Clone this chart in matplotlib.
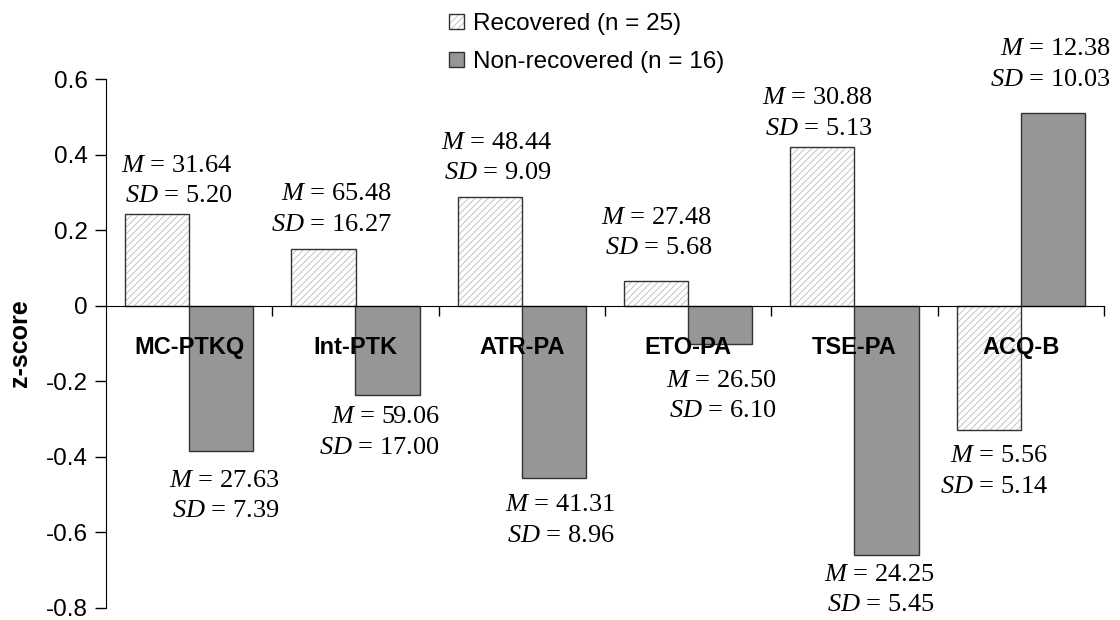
import numpy as np
import matplotlib.pyplot as plt
from matplotlib.patches import Patch

plt.rcParams['font.family'] = ['Liberation Sans', 'DejaVu Sans']
plt.rcParams['mathtext.fontset'] = 'custom'
plt.rcParams['mathtext.rm'] = 'Liberation Serif'
plt.rcParams['mathtext.it'] = 'Liberation Serif:italic'
plt.rcParams['hatch.linewidth'] = 0.7

# ----------------------------
# datos
# ----------------------------
categories = ['MC-PTKQ', 'Int-PTK', 'ATR-PA', 'ETO-PA', 'TSE-PA', 'ACQ-B']
z_recovered = [0.243, 0.149, 0.288, 0.066, 0.421, -0.330]
z_nonrecovered = [-0.384, -0.235, -0.455, -0.101, -0.660, 0.509]
m_recovered = ['31.64', '65.48', '48.44', '27.48', '30.88', '5.56']
sd_recovered = ['5.20', '16.27', '9.09', '5.68', '5.13', '5.14']
m_nonrecovered = ['27.63', '59.06', '41.31', '26.50', '24.25', '12.38']
sd_nonrecovered = ['7.39', '17.00', '8.96', '6.10', '5.45', '10.03']
yticks = [0.6, 0.4, 0.2, 0, -0.2, -0.4, -0.6, -0.8]
ytick_labels = ['0.6', '0.4', '0.2', '0', '-0.2', '-0.4', '-0.6', '-0.8']

# desplazamiento de etiquetas (pixeles: borde derecho, centro vertical)
off_rec = [(75, 33), (68, 40), (62, 39), (56, 48), (50, 33), (59, -41)]
off_non = [(58, -45), (52, -38), (61, -43), (56, -52), (48, -35), (58, 49)]

gray = '#969696'
edge = '#333333'
hatch_col = '#c4c4c4'
w = 0.385

fig = plt.figure(figsize=(11.2, 6.2), dpi=100)
ax = fig.add_axes([106/1120, 12/620, 998/1120, 529/620])

x = np.arange(len(categories))
ax.bar(x - w/2, z_recovered, w, color='white', edgecolor=hatch_col,
       linewidth=0, hatch='/////', zorder=2)
ax.bar(x - w/2, z_recovered, w, fill=False, edgecolor=edge, linewidth=1, zorder=3)
ax.bar(x + w/2, z_nonrecovered, w, color=gray, edgecolor=edge, linewidth=1, zorder=3)

serif = 'Liberation Serif'
for i in range(len(categories)):
    txt = '$M$ = ' + m_recovered[i] + '\n' + '$SD$ = ' + sd_recovered[i]
    ax.annotate(txt, (x[i] - w/2, z_recovered[i]), xytext=off_rec[i],
                textcoords='offset pixels', ha='right', va='center',
                multialignment='right', fontsize=19, family=serif,
                linespacing=1.5, annotation_clip=False)
    txt = '$M$ = ' + m_nonrecovered[i] + '\n' + '$SD$ = ' + sd_nonrecovered[i]
    ax.annotate(txt, (x[i] + w/2, z_nonrecovered[i]), xytext=off_non[i],
                textcoords='offset pixels', ha='right', va='center',
                multialignment='right', fontsize=19, family=serif,
                linespacing=1.5, annotation_clip=False)
    ax.text(x[i], -0.1105, categories[i], ha='center', va='center',
            fontsize=17, fontweight='bold', zorder=5)

ax.set_xlim(-0.5, 5.5)
ax.set_ylim(-0.8, 0.6)
ax.set_yticks(yticks)
ax.set_yticklabels(ytick_labels, fontsize=17.5)
ax.set_xticks(np.arange(0.5, 6.0, 1.0))
ax.set_xticklabels([])
ax.spines['top'].set_visible(False)
ax.spines['right'].set_visible(False)
ax.spines['bottom'].set_position(('data', 0))
ax.spines['bottom'].set_zorder(4)
ax.tick_params(axis='y', direction='out', length=8, width=1, pad=5)
ax.tick_params(axis='x', direction='out', length=7, width=1)
ax.set_ylabel('z-score', fontsize=18, fontweight='bold', labelpad=10)

h_rec = (Patch(facecolor='white', edgecolor=hatch_col, linewidth=0, hatch='/////'),
         Patch(fill=False, edgecolor=edge, linewidth=1))
h_non = Patch(facecolor=gray, edgecolor=edge, linewidth=1)
fig.legend([h_rec, h_non], ['Recovered (n = 25)', 'Non-recovered (n = 16)'],
           loc='upper left', bbox_to_anchor=(449/1120, 1 - 13/620),
           frameon=False, fontsize=17.5, handlelength=0.6, handleheight=0.6,
           handletextpad=0.4, labelspacing=0.65, borderpad=0, borderaxespad=0)

plt.savefig('out.png', dpi=100)
